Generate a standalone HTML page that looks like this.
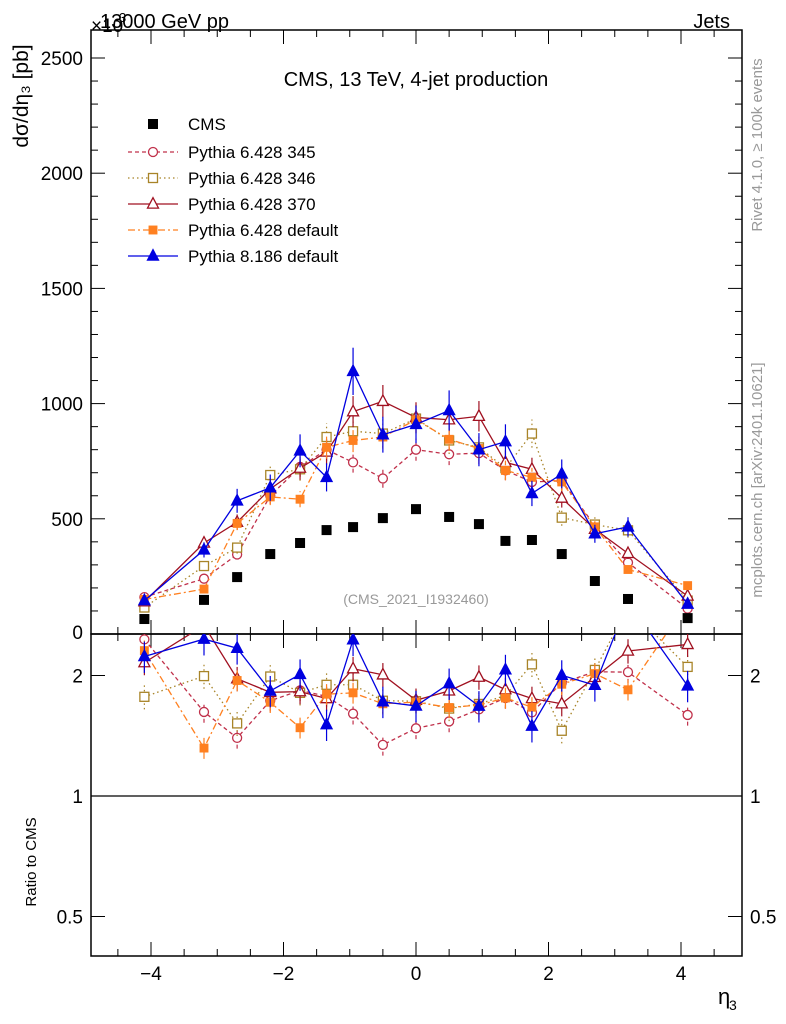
<!DOCTYPE html>
<html><head><meta charset="utf-8"><style>
body{margin:0;background:#fff;}
svg{display:block;font-family:"Liberation Sans",sans-serif;}
</style></head><body>
<svg id="c" width="786" height="1024" viewBox="0 0 786 1024">
<rect width="786" height="1024" fill="#fff"/>
<g id="g"></g>
</svg>
<script>
const xCenters=[-4.1,-3.2,-2.7,-2.2,-1.75,-1.35,-0.95,-0.5,0,0.5,0.95,1.35,1.75,2.2,2.7,3.2,4.1];
const cmsVals=[65,148,247,347,395,451,464,503,542,508,477,404,408,347,230,152,69];
const p345=[160,240,345,600,725,800,745,675,800,780,785,710,660,665,470,310,110];
const p346=[115,295,375,690,715,855,880,870,935,840,810,720,870,505,475,450,145];
const p370=[140,395,485,630,720,790,965,1010,940,930,945,745,715,590,455,350,165];
const p6def=[150,195,480,595,585,810,840,855,930,845,805,710,680,660,465,280,210];
const p8def=[145,365,578,635,795,680,1140,865,910,970,800,835,610,695,435,465,130];
const yTicks=[0,500,1000,1500,2000,2500];
const xTicks=[-4,-2,0,2,4];
const rTicks=[0.5,1,2];

const NS="http://www.w3.org/2000/svg";
const G=document.getElementById('g');
const L=91,R=742,T=30,B=634,RB=956;
const X=v=>416+v*66.25;
const Y=v=>634-v*0.2304;
const RY=v=>796-Math.log2(v)*120.5;
function el(tag,a,p){const e=document.createElementNS(NS,tag);for(const k in a)e.setAttribute(k,a[k]);(p||G).appendChild(e);return e;}
function txt(s,a){const e=el('text',a);e.textContent=s;return e;}

let f1=el('rect',{x:L,y:T,width:R-L,height:B-T,fill:'none',stroke:'#000','stroke-width':1.5});


let f2=el('rect',{x:L,y:B,width:R-L,height:RB-B,fill:'none',stroke:'#000','stroke-width':1.5});


let ref=el('line',{x1:L,x2:R,y1:RY(1),y2:RY(1),stroke:'#000','stroke-width':1.2});



for(const t of yTicks){const y=Y(t);
 el('line',{x1:L,x2:L+14,y1:y,y2:y,stroke:'#000'});el('line',{x1:R,x2:R-14,y1:y,y2:y,stroke:'#000'});
 if(t>0){const lab=txt(String(t),{x:L-8,y:y+7,'font-size':19,'text-anchor':'end'});
 }}
for(let t=100;t<2600;t+=100){if(t%500){const y=Y(t);el('line',{x1:L,x2:L+7,y1:y,y2:y,stroke:'#000'});el('line',{x1:R,x2:R-7,y1:y,y2:y,stroke:'#000'});}}
txt('0',{x:L-8,y:B+5,'font-size':19,'text-anchor':'end'});
for(const t of rTicks){const y=RY(t);
 el('line',{x1:L,x2:L+14,y1:y,y2:y,stroke:'#000'});el('line',{x1:R,x2:R-14,y1:y,y2:y,stroke:'#000'});
 let a=txt(String(t),{x:L-8,y:y+7,'font-size':19,'text-anchor':'end'});
 
 let b=txt(String(t),{x:R+8,y:y+7,'font-size':19});
 }
for(let v=-4.5;v<=4.6;v+=0.5){const x=X(v);const maj=Math.abs(v%2)<1e-6;const h=maj?14:7;
 for(const yb of [B,RB]){el('line',{x1:x,x2:x,y1:yb,y2:yb-h,stroke:'#000'});}
 el('line',{x1:x,x2:x,y1:T,y2:T+h,stroke:'#000'});el('line',{x1:x,x2:x,y1:B,y2:B+h,stroke:'#000'});}
for(const t of xTicks){const lab=txt(t<0?'\u2212'+(-t):String(t),{x:X(t),y:980,'font-size':19,'text-anchor':'middle'});
 }

const texts=[
 ['13000 GeV pp',{x:100,y:28,'font-size':20},'title-left'],
 ['\u00d710',{x:91,y:32,'font-size':19},'y-multiplier'],
 ['Jets',{x:730,y:28,'font-size':20,'text-anchor':'end'},'title-right'],
 ['CMS, 13 TeV, 4-jet production',{x:416,y:86,'font-size':20,'text-anchor':'middle'},'plot-title'],
 ['(CMS_2021_I1932460)',{x:416,y:604,'font-size':14,'text-anchor':'middle',fill:'#999'},'analysis-id'],
 ['\u03b7',{x:718,y:1004,'font-size':22},'x-axis-title'],
 ['Ratio to CMS',{x:36,y:862,'font-size':15,'text-anchor':'middle',transform:'rotate(-90 36 862)'},'ratio-axis-title'],
 ['d\u03c3/d\u03b7\u2083 [pb]',{x:28,y:96,'font-size':21,'text-anchor':'middle',transform:'rotate(-90 28 96)'},'y-axis-title'],
 ['Rivet 4.1.0, \u2265 100k events',{x:762,y:145,'font-size':15,'text-anchor':'middle',fill:'#999',transform:'rotate(-90 762 145)'},'rivet-label'],
 ['mcplots.cern.ch [arXiv:2401.10621]',{x:762,y:480,'font-size':15,'text-anchor':'middle',fill:'#999',transform:'rotate(-90 762 480)'},'mcplots-label'],
];
for(const [s,a,n] of texts){const e=txt(s,a);}
txt('3',{x:729,y:1010,'font-size':14});
txt('3',{x:119,y:22,'font-size':13});

const series=[
 {name:'Pythia 6.428 345',v:p345,c:'#c0304a',dash:'4,3',m:'circle',fill:false,err:0.06,sz:4.5},
 {name:'Pythia 6.428 346',v:p346,c:'#a88428',dash:'1.5,3',m:'square',fill:false,err:0.07,sz:4.5},
 {name:'Pythia 6.428 370',v:p370,c:'#a01020',dash:'',m:'tri',fill:false,err:0.07,sz:5.5},
 {name:'Pythia 6.428 default',v:p6def,c:'#ff8020',dash:'7,3,2,3',m:'square',fill:true,err:0.06,sz:3.8},
 {name:'Pythia 8.186 default',v:p8def,c:'#0000e0',dash:'',m:'tri',fill:true,err:0.09,sz:5.5},
];
function marker(m,x,y,c,fill,sz,p,name){let e;
 if(m==='circle')e=el('circle',{cx:x,cy:y,r:sz,fill:fill?c:'#fff',stroke:c,'stroke-width':1.3},p);
 else if(m==='square')e=el('rect',{x:x-sz,y:y-sz,width:2*sz,height:2*sz,fill:fill?c:'#fff',stroke:c,'stroke-width':1.3},p);
 else e=el('polygon',{points:`${x},${y-sz*1.15} ${x+sz},${y+sz*0.75} ${x-sz},${y+sz*0.75}`,fill:fill?c:'#fff',stroke:c,'stroke-width':1.3},p);
 return e;}
const clipDefs=el('defs',{});
const cp1=el('clipPath',{id:'cm'},clipDefs);el('rect',{x:L,y:T,width:R-L,height:B-T},cp1);
const cp2=el('clipPath',{id:'cr'},clipDefs);el('rect',{x:L,y:B,width:R-L,height:RB-B},cp2);
series.forEach((s,si)=>{
 const gm=el('g',{'clip-path':'url(#cm)'});
 
 const gr=el('g',{'clip-path':'url(#cr)'});
 
 const pts=s.v.map((v,i)=>[X(xCenters[i]),Y(v)]);
 const rpts=s.v.map((v,i)=>[X(xCenters[i]),RY(v/cmsVals[i])]);
 el('polyline',{points:pts.map(p=>p.join(',')).join(' '),fill:'none',stroke:s.c,'stroke-width':1.3,'stroke-dasharray':s.dash},gm);
 el('polyline',{points:rpts.map(p=>p.join(',')).join(' '),fill:'none',stroke:s.c,'stroke-width':1.3,'stroke-dasharray':s.dash},gr);
 s.v.forEach((v,i)=>{const x=X(xCenters[i]);const e=v*s.err;
  el('line',{x1:x,x2:x,y1:Y(v-e),y2:Y(v+e),stroke:s.c,'stroke-width':1.2,'stroke-dasharray':s.dash},gm);
  const r=v/cmsVals[i];
  el('line',{x1:x,x2:x,y1:RY(r*(1-s.err)),y2:RY(r*(1+s.err)),stroke:s.c,'stroke-width':1.2,'stroke-dasharray':s.dash},gr);
  marker(s.m,x,Y(v),s.c,s.fill,s.sz,gm,'point');
  marker(s.m,x,RY(r),s.c,s.fill,s.sz,gr,'ratio-point');});
 const ly=152+si*26;
 const lg=el('g',{});
 el('line',{x1:128,x2:178,y1:ly,y2:ly,stroke:s.c,'stroke-width':1.3,'stroke-dasharray':s.dash},lg);
 marker(s.m,153,ly,s.c,s.fill,s.sz,lg,'legend-marker');
 const t=el('text',{x:188,y:ly+6,'font-size':17},lg);t.textContent=s.name;
});
const gc=el('g',{});
cmsVals.forEach((v,i)=>{const r=el('rect',{x:X(xCenters[i])-5,y:Y(v)-5,width:10,height:10,fill:'#000'},gc);
 });
const lc=el('g',{});
el('rect',{x:148,y:119,width:10,height:10,fill:'#000'},lc);
const ct=el('text',{x:188,y:130,'font-size':17},lc);ct.textContent='CMS';
</script>
</body></html>
